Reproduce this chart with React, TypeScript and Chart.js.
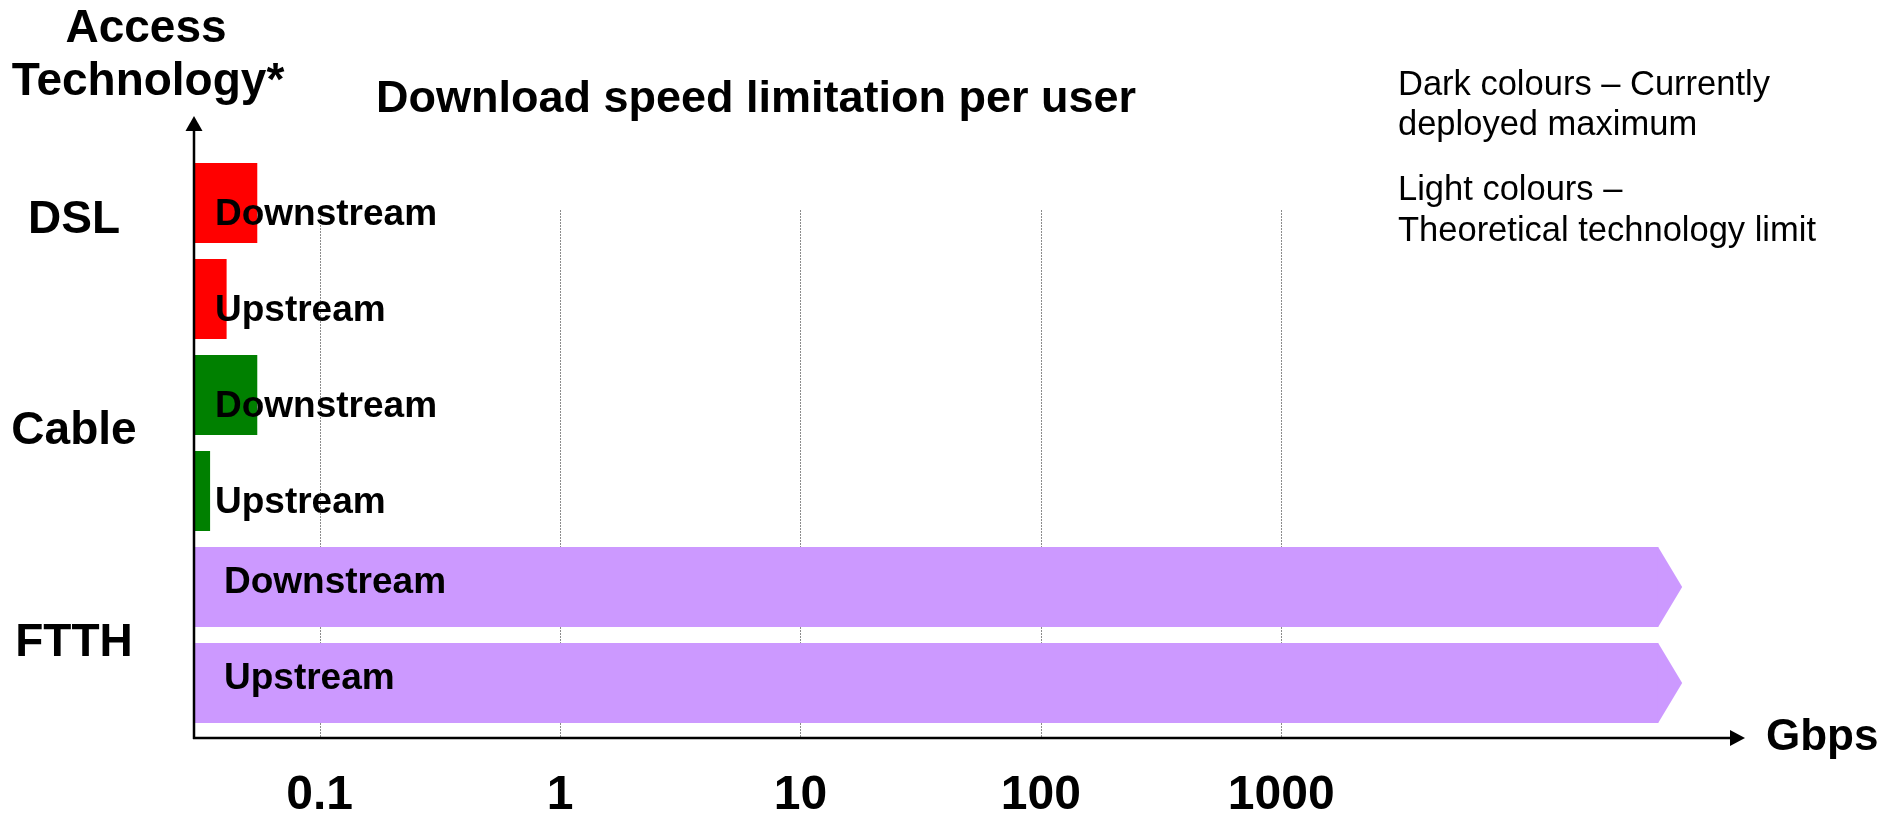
import React, { useEffect, useRef } from "react";
import { Chart, registerables } from "chart.js";

Chart.register(...registerables);

// ---------- data ----------
const CATEGORIES = [
  "DSL Downstream",
  "DSL Upstream",
  "Cable Downstream",
  "Cable Upstream",
  "FTTH Downstream",
  "FTTH Upstream",
];
const BAR_LABELS = ["Downstream", "Upstream", "Downstream", "Upstream", "Downstream", "Upstream"];
const SPEED_GBPS = [0.055, 0.041, 0.055, 0.035, 37000, 37000];
const BAR_COLORS = ["#FF0000", "#FF0000", "#008000", "#008000", "#CC99FF", "#CC99FF"];
const GROUPS = ["DSL", "Cable", "FTTH"];
const TICK_VALUES = [0.1, 1, 10, 100, 1000];
const TICK_LABELS = ["0.1", "1", "10", "100", "1000"];
const TITLE = "Download speed limitation per user";
const Y_AXIS_TITLE = ["Access", "Technology*"];
const X_AXIS_UNIT = "Gbps";
const NOTES = ["Dark colours \u2013 Currently", "deployed maximum", "Light colours \u2013", "Theoretical technology limit"];

const FONT = "'Liberation Sans', Arial, Helvetica, sans-serif";

const decorPlugin = {
  id: "decor",
  beforeDatasetsDraw(chart: any) {
    const { ctx, chartArea, scales } = chart;
    const x = scales.x;
    ctx.save();
    ctx.strokeStyle = "#8c8c8c";
    ctx.lineWidth = 1;
    ctx.setLineDash([2, 1]);
    TICK_VALUES.forEach((v) => {
      const px = Math.round(x.getPixelForValue(v)) + 0.5;
      ctx.beginPath();
      ctx.moveTo(px, chartArea.top + 55);
      ctx.lineTo(px, chartArea.bottom + 7);
      ctx.stroke();
    });
    ctx.restore();
  },
  afterDatasetsDraw(chart: any) {
    const { ctx, chartArea } = chart;
    const meta = chart.getDatasetMeta(0);
    const openEnded = TICK_VALUES[TICK_VALUES.length - 1] * 10;
    ctx.save();

    // chevron ends for open-ended bars
    meta.data.forEach((bar: any, i: number) => {
      if (SPEED_GBPS[i] > openEnded) {
        const h = bar.height;
        ctx.fillStyle = BAR_COLORS[i];
        ctx.beginPath();
        ctx.moveTo(bar.x - 1, bar.y - h / 2);
        ctx.lineTo(bar.x, bar.y - h / 2);
        ctx.lineTo(bar.x + 24, bar.y);
        ctx.lineTo(bar.x, bar.y + h / 2);
        ctx.lineTo(bar.x - 1, bar.y + h / 2);
        ctx.closePath();
        ctx.fill();
      }
    });

    // axes with arrows
    const ax = chartArea.left;
    const ay = chartArea.bottom + 7;
    ctx.strokeStyle = "#000";
    ctx.fillStyle = "#000";
    ctx.lineWidth = 2.5;
    ctx.beginPath();
    ctx.moveTo(ax, ay + 1);
    ctx.lineTo(ax, 129);
    ctx.stroke();
    ctx.beginPath();
    ctx.moveTo(ax - 8.5, 131);
    ctx.lineTo(ax + 8.5, 131);
    ctx.lineTo(ax, 116);
    ctx.closePath();
    ctx.fill();

    ctx.beginPath();
    ctx.moveTo(ax - 1, ay);
    ctx.lineTo(chartArea.right - 13, ay);
    ctx.stroke();
    ctx.beginPath();
    ctx.moveTo(chartArea.right - 15, ay - 8);
    ctx.lineTo(chartArea.right - 15, ay + 8);
    ctx.lineTo(chartArea.right, ay);
    ctx.closePath();
    ctx.fill();

    // bar labels
    ctx.font = `bold 37px ${FONT}`;
    ctx.textAlign = "left";
    ctx.textBaseline = "alphabetic";
    meta.data.forEach((bar: any, i: number) => {
      const wide = SPEED_GBPS[i] > openEnded;
      ctx.fillText(BAR_LABELS[i], chartArea.left + (wide ? 30 : 21), bar.y + (wide ? 6 : 22));
    });

    // group labels
    const groupOffsets = [-18, 1, 21];
    ctx.font = `bold 46px ${FONT}`;
    ctx.textAlign = "center";
    GROUPS.forEach((g, gi) => {
      const a = meta.data[gi * 2];
      const b = meta.data[gi * 2 + 1];
      const mid = (a.y + b.y) / 2;
      ctx.fillText(g, 74, mid + groupOffsets[gi]);
    });

    // y axis title
    ctx.fillText(Y_AXIS_TITLE[0], 146, 42);
    ctx.fillText(Y_AXIS_TITLE[1], 148, 95);

    // x axis unit
    ctx.textAlign = "left";
    ctx.font = `bold 44px ${FONT}`;
    ctx.fillText(X_AXIS_UNIT, 1766, 750);

    // title
    ctx.font = `bold 45px ${FONT}`;
    ctx.fillText(TITLE, 376, 112);

    // notes
    ctx.font = `34.5px ${FONT}`;
    const noteY = [95, 135, 200, 241];
    NOTES.forEach((t, i) => ctx.fillText(t, 1398, noteY[i]));

    ctx.restore();
  },
};

export default function App() {
  const canvasRef = useRef<HTMLCanvasElement | null>(null);

  useEffect(() => {
    const canvas = canvasRef.current;
    if (!canvas) return;
    const chart = new Chart(canvas, {
      type: "bar",
      data: {
        labels: CATEGORIES,
        datasets: [
          {
            data: SPEED_GBPS,
            backgroundColor: BAR_COLORS,
            borderWidth: 0,
            barPercentage: 80 / 96,
            categoryPercentage: 1,
          },
        ],
      },
      options: {
        indexAxis: "y",
        responsive: false,
        animation: false,
        devicePixelRatio: 1,
        layout: { padding: { left: 194, right: 142, top: 155, bottom: 0 } },
        plugins: {
          legend: { display: false },
          tooltip: { enabled: false },
          title: { display: false },
        },
        scales: {
          x: {
            type: "logarithmic",
            min: 0.03,
            max: 85000,
            grid: { display: false, drawTicks: false },
            border: { display: false },
            afterBuildTicks: (s: any) => {
              s.ticks = TICK_VALUES.map((v) => ({ value: v }));
            },
            afterFit: (s: any) => {
              s.height = 83;
            },
            ticks: {
              autoSkip: false,
              maxRotation: 0,
              minRotation: 0,
              padding: 36,
              color: "#000",
              font: { family: FONT, size: 48, weight: "bold" },
              callback: (_v: any, i: number) => TICK_LABELS[i],
            },
          },
          y: {
            type: "category",
            display: false,
            offset: true,
          },
        },
      },
      plugins: [decorPlugin],
    } as any);
    return () => chart.destroy();
  }, []);

  return (
    <div style={{ position: "fixed", left: 0, top: 0, width: 1887, height: 814, background: "#fff" }}>
      <canvas ref={canvasRef} width={1887} height={814} style={{ display: "block" }} />
    </div>
  );
}
